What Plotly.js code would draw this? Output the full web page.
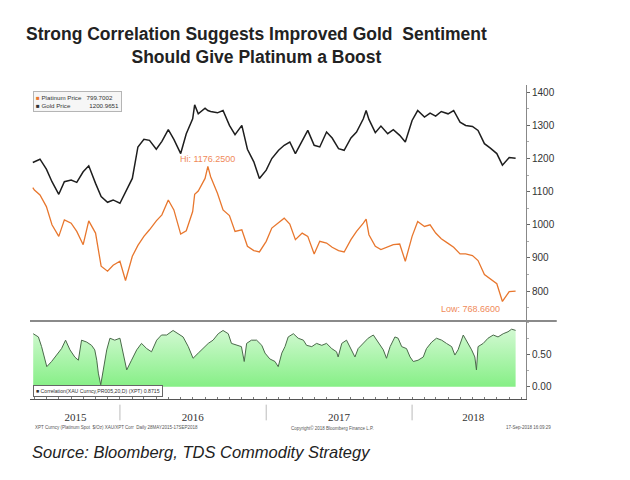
<!DOCTYPE html>
<html>
<head>
<meta charset="utf-8">
<script src="https://cdn.plot.ly/plotly-3.0.1.min.js"></script>
<style>html,body{margin:0;padding:0;background:#fff;}#chart{width:630px;height:480px;}</style>
</head>
<body>
<div id="chart"></div>
<script>
// ---- data ----
const priceDates = ['2015-05-28','2015-06-01','2015-06-15','2015-07-01','2015-07-15','2015-08-01','2015-08-15','2015-09-01','2015-09-15','2015-10-01','2015-10-15','2015-11-01','2015-11-15','2015-12-01','2015-12-15',
'2016-01-01','2016-01-15','2016-02-01','2016-02-15','2016-03-01','2016-03-15','2016-04-01','2016-04-15','2016-05-01','2016-05-15','2016-06-01','2016-06-15','2016-07-01','2016-07-06','2016-07-15','2016-08-01','2016-08-08','2016-08-15','2016-09-01','2016-09-15','2016-10-01','2016-10-15','2016-11-01','2016-11-15','2016-12-01','2016-12-15',
'2017-01-01','2017-01-15','2017-02-01','2017-02-15','2017-03-01','2017-03-15','2017-04-01','2017-04-15','2017-05-01','2017-05-15','2017-06-01','2017-06-15','2017-07-01','2017-07-15','2017-08-01','2017-08-15','2017-09-01','2017-09-08','2017-09-15','2017-10-01','2017-10-15','2017-11-01','2017-11-15','2017-12-01','2017-12-15',
'2018-01-01','2018-01-15','2018-02-01','2018-02-15','2018-03-01','2018-03-15','2018-04-01','2018-04-15','2018-05-01','2018-05-15','2018-06-01','2018-06-15','2018-07-01','2018-07-15','2018-08-01','2018-08-15','2018-09-01','2018-09-17'];

const goldPrice = [1188,1190,1198,1168,1130,1092,1130,1135,1128,1160,1178,1125,1085,1068,1075,
1065,1098,1140,1235,1258,1255,1228,1252,1287,1258,1215,1275,1320,1362,1335,1352,1345,1342,1338,1345,1300,1272,1300,1228,1190,1140,
1165,1200,1225,1240,1250,1215,1255,1285,1240,1235,1280,1262,1230,1225,1262,1280,1320,1345,1318,1278,1298,1275,1287,1270,1250,
1315,1345,1325,1337,1328,1342,1335,1345,1310,1300,1297,1285,1245,1232,1215,1180,1203,1200.9651];

const platinumPrice = [1112,1105,1090,1055,1000,965,1015,1005,980,940,1012,975,875,860,878,
890,832,905,938,965,985,1012,1030,1075,1045,972,982,1040,1092,1102,1140,1176.25,1145,1095,1045,1028,980,985,935,922,918,
950,990,1008,1020,1002,955,975,965,912,950,945,932,922,918,955,980,1005,1017,970,935,925,932,940,942,890,
965,1010,995,1000,975,958,944,932,912,912,907,892,850,838,822,768.66,798,799.7002];

const corrDates = ['2015-05-29','2015-06-11','2015-06-19','2015-07-02','2015-07-14','2015-07-27','2015-08-08','2015-08-18','2015-08-29','2015-09-10','2015-09-19','2015-09-27','2015-10-10','2015-10-22','2015-10-30','2015-11-04','2015-11-08','2015-11-14','2015-11-20','2015-11-29','2015-12-07','2015-12-19',
'2016-01-01','2016-01-09','2016-01-18','2016-01-30','2016-02-12','2016-02-24','2016-03-08','2016-03-20','2016-04-02','2016-04-14','2016-04-27','2016-05-13','2016-05-26','2016-06-07','2016-06-20','2016-07-02','2016-07-15','2016-07-27','2016-08-09','2016-08-21','2016-09-03','2016-09-15','2016-09-28','2016-10-06','2016-10-19','2016-10-31','2016-11-07','2016-11-13','2016-11-25','2016-12-08','2016-12-21','2016-12-29',
'2017-01-10','2017-01-23','2017-01-31','2017-02-09','2017-02-17','2017-02-25','2017-03-10','2017-03-22','2017-04-04','2017-04-12','2017-04-25','2017-05-07','2017-05-20','2017-06-01','2017-06-14','2017-06-26','2017-06-30','2017-07-09','2017-07-21','2017-08-03','2017-08-11','2017-08-19','2017-09-01','2017-09-13','2017-09-26','2017-10-08','2017-10-21','2017-10-29','2017-11-07','2017-11-19','2017-11-27','2017-12-06','2017-12-18','2017-12-27',
'2018-01-04','2018-01-16','2018-01-29','2018-02-06','2018-02-19','2018-03-03','2018-03-16','2018-03-28','2018-04-10','2018-04-18','2018-04-26','2018-05-09','2018-05-21','2018-05-30','2018-06-07','2018-06-11','2018-06-15','2018-06-28','2018-07-10','2018-07-23','2018-08-04','2018-08-17','2018-08-29','2018-09-07','2018-09-17'];

const correlation = [0.82,0.77,0.62,0.31,0.39,0.49,0.59,0.72,0.57,0.46,0.41,0.72,0.69,0.64,0.57,0.41,0.21,0.03,0.26,0.57,0.75,0.72,
0.75,0.52,0.26,0.41,0.57,0.67,0.59,0.54,0.72,0.80,0.80,0.87,0.82,0.77,0.62,0.44,0.52,0.59,0.67,0.72,0.82,0.87,0.82,0.67,0.64,0.62,0.39,0.67,0.72,0.72,0.64,0.52,
0.43,0.39,0.31,0.52,0.62,0.77,0.82,0.75,0.72,0.64,0.62,0.67,0.64,0.67,0.59,0.54,0.46,0.67,0.72,0.57,0.46,0.59,0.67,0.75,0.80,0.69,0.57,0.44,0.62,0.77,0.75,0.62,0.59,0.46,
0.39,0.41,0.46,0.59,0.69,0.75,0.72,0.67,0.62,0.49,0.57,0.80,0.67,0.57,0.46,0.26,0.62,0.67,0.75,0.80,0.77,0.82,0.85,0.89,0.8715];

const yearLabels = ['2015','2016','2017','2018'];
const yearLabelDates = ['2015-09-12','2016-07-01','2017-07-02','2018-06-03'];
const yearBoundaries = ['2016-01-01','2017-01-01','2018-01-01'];
const priceTicks = [800,900,1000,1100,1200,1300,1400];
const corrTicks = [0,0.5];

// ---- derived ----
const ORANGE = '#e8772e';
let hiIdx = 0, loIdx = 0;
platinumPrice.forEach((v,i)=>{ if(v>platinumPrice[hiIdx]) hiIdx=i; if(v<platinumPrice[loIdx]) loIdx=i; });
const lastPt = platinumPrice[platinumPrice.length-1];
const lastAu = goldPrice[goldPrice.length-1];
const lastCorr = correlation[correlation.length-1];
const NB = '\u00a0';

const traces = [
  {x: priceDates, y: goldPrice, type:'scatter', mode:'lines', xaxis:'x', yaxis:'y',
   line:{color:'#1e1e1e', width:1.5}, hoverinfo:'skip'},
  {x: priceDates, y: platinumPrice, type:'scatter', mode:'lines', xaxis:'x', yaxis:'y',
   line:{color:ORANGE, width:1.3}, hoverinfo:'skip'},
  {x: corrDates, y: correlation, type:'scatter', mode:'lines', xaxis:'x', yaxis:'y2',
   fill:'tozeroy', fillgradient:{type:'vertical', colorscale:[[0,'#86ef86'],[1,'#d2f9d2']]},
   line:{color:'#4a6a4a', width:1}, hoverinfo:'skip'}
];

const axFont = {family:'Liberation Sans, Arial, sans-serif', size:10, color:'#333'};

const layout = {
  width:630, height:480, showlegend:false,
  paper_bgcolor:'#fff', plot_bgcolor:'#fff',
  margin:{l:30, r:104, t:85, b:81},
  title:{text:'Strong Correlation Suggests Improved Gold  Sentiment<br>Should Give Platinum a Boost',
    xref:'container', x:0.407, xanchor:'center', yref:'container', y:0.917, yanchor:'top',
    font:{family:'Liberation Sans, Arial, sans-serif', size:17.5, weight:'bold', color:'#222'}},
  xaxis:{type:'date', range:['2015-05-21','2018-10-13'], anchor:'y2',
    showline:true, linecolor:'#555', linewidth:1, showgrid:false, zeroline:false,
    tickmode:'array', tickvals:yearLabelDates, ticktext:yearLabels, ticks:'', ticklen:0,
    ticklabelstandoff:8,
    tickfont:{family:'Liberation Serif, Times New Roman, serif', size:11, color:'#333'},
    minor:{dtick:'M1', tick0:'2015-06-01', ticks:'inside', ticklen:2, tickcolor:'#777', showgrid:false}},
  yaxis:{domain:[0.252,1], range:[713,1422], side:'right', anchor:'x',
    showline:true, linecolor:'#888', linewidth:1, showgrid:false, zeroline:false,
    tickmode:'array', tickvals:priceTicks, ticks:'outside', ticklen:3, tickcolor:'#666',
    tickfont:axFont,
    minor:{dtick:50, tick0:750, ticks:'outside', ticklen:2, tickcolor:'#aaa', showgrid:false}},
  yaxis2:{domain:[0,0.245], range:[-0.19,1.0], side:'right', anchor:'x',
    showline:true, linecolor:'#888', linewidth:1, showgrid:false, zeroline:false,
    tickmode:'array', tickvals:corrTicks, tickformat:'.2f', ticks:'outside', ticklen:3, tickcolor:'#666',
    tickfont:axFont,
    minor:{dtick:0.25, tick0:0, ticks:'outside', ticklen:2, tickcolor:'#aaa', showgrid:false}},
  shapes:[
    {type:'line', xref:'paper', yref:'paper', x0:0, x1:1.062, y0:0.2485, y1:0.2485,
     line:{color:'#8a8a8a', width:2}},
  ].concat(yearBoundaries.map(d=>({type:'line', xref:'x', yref:'paper', x0:d, x1:d, y0:-0.018, y1:-0.068,
     line:{color:'#bbb', width:1}}))),
  annotations:[
    {xref:'x', yref:'y', x:priceDates[hiIdx], y:platinumPrice[hiIdx], text:'Hi: '+platinumPrice[hiIdx].toFixed(4),
     showarrow:false, xanchor:'center', yanchor:'bottom', yshift:0,
     font:{family:'Liberation Sans, Arial, sans-serif', size:9, color:'#f08a5a'}},
    {xref:'x', yref:'y', x:priceDates[loIdx], y:platinumPrice[loIdx], text:'Low: '+platinumPrice[loIdx].toFixed(4),
     showarrow:false, xanchor:'right', yanchor:'top', yshift:-1,
     font:{family:'Liberation Sans, Arial, sans-serif', size:9, color:'#f08a5a'}},
    {xref:'paper', yref:'paper', x:0.006, y:0.982, xanchor:'left', yanchor:'top', showarrow:false, align:'left',
     text:'<span style="color:'+ORANGE+'">■</span>'+NB+'Platinum Price'+NB+NB+NB+lastPt.toFixed(4)+'<br>■'+NB+'Gold Price'+NB.repeat(11)+lastAu.toFixed(4),
     bgcolor:'#f6f6f6', bordercolor:'#b5b5b5', borderwidth:1, borderpad:2,
     font:{family:'Liberation Sans, Arial, sans-serif', size:6.2, color:'#333'}},
    {xref:'paper', yref:'paper', x:0.006, y:0.045, xanchor:'left', yanchor:'top', showarrow:false, align:'left',
     text:'■'+NB+'Correlation(XAU Curncy,PR005,20,D) (XPT) '+lastCorr.toFixed(4),
     bgcolor:'#ffffff', bordercolor:'#666', borderwidth:1, borderpad:2,
     font:{family:'Liberation Sans, Arial, sans-serif', size:5.2, color:'#333'}},
    {xref:'paper', yref:'paper', x:0.006, y:-0.075, xanchor:'left', yanchor:'top', showarrow:false,
     text:'XPT Curncy (Platinum Spot  $/Oz) XAU/XPT Corr  Daily 28MAY2015-17SEP2018',
     font:{family:'Liberation Sans, Arial, sans-serif', size:4.5, color:'#555'}},
    {xref:'paper', yref:'paper', x:0.61, y:-0.075, xanchor:'center', yanchor:'top', showarrow:false,
     text:'Copyright© 2018 Bloomberg Finance L.P.',
     font:{family:'Liberation Sans, Arial, sans-serif', size:4.5, color:'#555'}},
    {xref:'paper', yref:'paper', x:1.055, y:-0.075, xanchor:'right', yanchor:'top', showarrow:false,
     text:'17-Sep-2018 16:09:29',
     font:{family:'Liberation Sans, Arial, sans-serif', size:4.5, color:'#555'}},
    {xref:'paper', yref:'paper', x:0, y:-0.17, xanchor:'left', yanchor:'middle', showarrow:false,
     text:'<i>Source: Bloomberg, TDS Commodity Strategy</i>',
     font:{family:'Liberation Sans, Arial, sans-serif', size:16.5, color:'#222'}}
  ]
};

Plotly.newPlot('chart', traces, layout, {staticPlot:true, displayModeBar:false});
</script>
</body>
</html>
